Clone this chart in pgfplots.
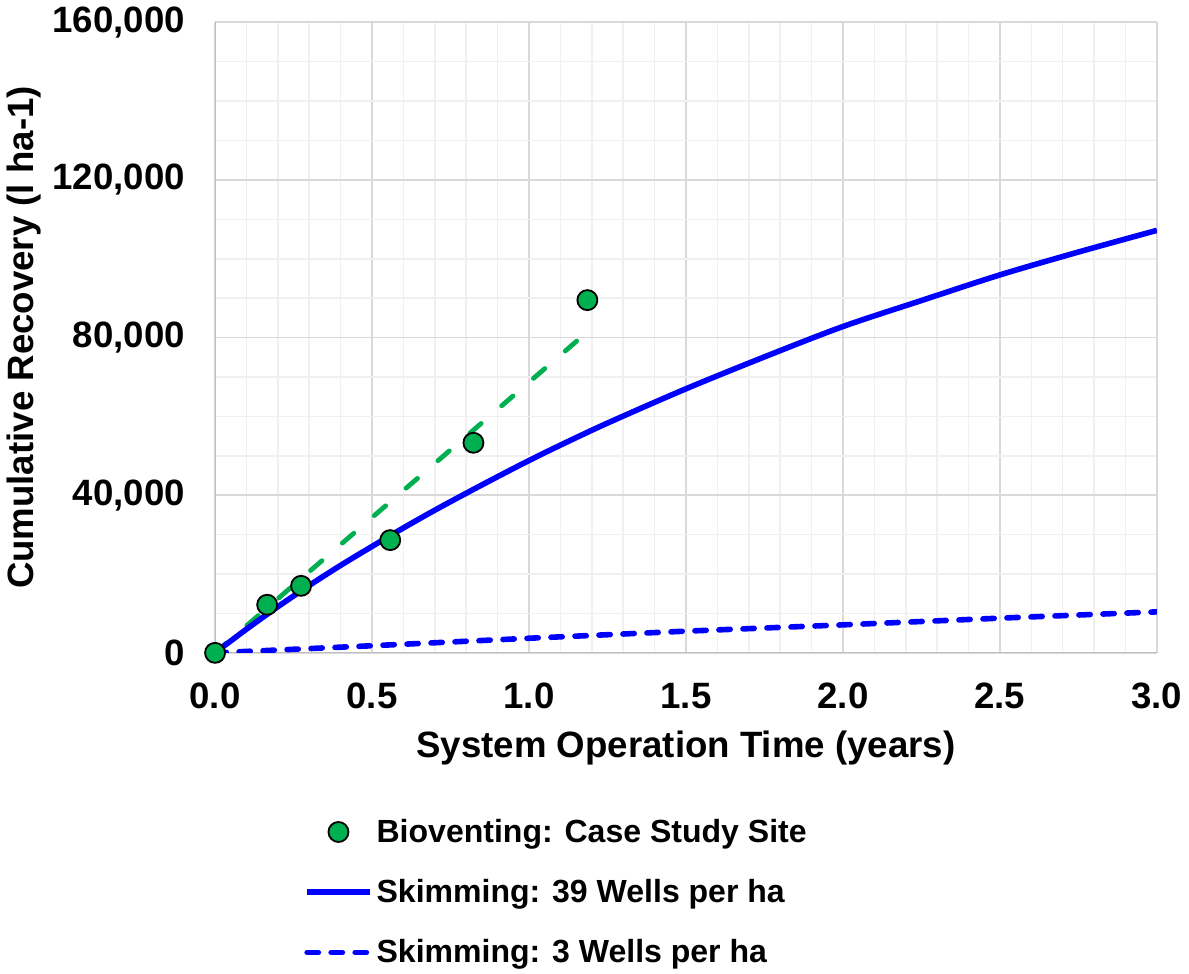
\documentclass[border=0pt]{standalone}
\usepackage{fontspec}
\setmainfont{Liberation Sans}
\usepackage{pgfplots}
\pgfplotsset{compat=1.18}

\definecolor{bgreen}{HTML}{00B050}
\definecolor{bblue}{HTML}{0000FF}
\definecolor{majgrid}{HTML}{D9D9D9}
\definecolor{mingrid}{HTML}{F0F0F0}

\pgfplotsset{
    lineleg/.style={legend image code/.code={\draw[##1] (0cm,0cm) -- (1.1cm,0cm);}},
    markleg/.style={legend image code/.code={\draw[##1, mark repeat=2, mark phase=2] plot coordinates {(0cm,0cm) (0.55cm,0cm) (1.1cm,0cm)};}},
}

\begin{document}
\begin{tikzpicture}
\begin{axis}[
    scale only axis,
    width=470.5pt, height=315pt,
    xmin=0, xmax=3, ymin=0, ymax=160000,
    xtick={0,0.5,...,3}, ytick={0,40000,...,160000},
    minor x tick num=4, minor y tick num=3,
    grid=both,
    major grid style={majgrid, line width=0.8pt},
    minor grid style={mingrid, line width=0.8pt},
    axis line style={draw=none},
    tick style={draw=none},
    scaled y ticks=false,
    /pgf/number format/assume math mode=true,
    xticklabel style={/pgf/number format/.cd, fixed, fixed zerofill, precision=1},
    yticklabel style={/pgf/number format/.cd, fixed, 1000 sep={,}},
    ticklabel style={font=\fontsize{18.3}{21}\selectfont\bfseries},
    xticklabel shift=11.5pt, yticklabel shift=11.5pt,
    label style={font=\fontsize{18.3}{21}\selectfont\bfseries},
    xlabel={System Operation Time (years)},
    ylabel={Cumulative Recovery (l ha-1)},
    xlabel style={yshift=-4pt},
    ylabel style={yshift=-1pt},
    legend cell align=left,
    legend style={at={(0.088,-0.25)}, anchor=north west, draw=none, fill=none,
        font=\fontsize{16}{19}\selectfont\bfseries, row sep=13pt,
        /tikz/every even column/.append style={column sep=1pt}},
]
% axis frame lines
\draw[color=majgrid, line width=0.8pt] (rel axis cs:0,1) -- (rel axis cs:1,1) -- (rel axis cs:1,0);
\draw[color=black!25, line width=1pt] (rel axis cs:0,1) -- (rel axis cs:0,0) -- (rel axis cs:1,0);

% trend line of case study
\addplot[bgreen, line width=2.4pt, line cap=round, dash pattern=on 7.5pt off 13.5pt, forget plot]
    coordinates {(0,0) (1.165,80000)};

\addplot[only marks, mark=*, mark size=5pt, mark options={fill=bgreen, draw=black, line width=0.9pt}, markleg]
    coordinates {
    (0,0)
    (0.166,12200)
    (0.274,17000)
    (0.558,28600)
    (0.823,53300)
    (1.186,89500)
};
\addlegendentry{Bioventing: Case Study Site}

\addplot[bblue, line width=2.8pt, smooth, lineleg]
    coordinates {
    (0,0)
    (0.1,6000)
    (0.2,11700)
    (0.3,17100)
    (0.4,22200)
    (0.5,27000)
    (0.6,31700)
    (0.7,36200)
    (0.8,40500)
    (0.9,44700)
    (1.0,48800)
    (1.1,52700)
    (1.25,58300)
    (1.5,67000)
    (1.75,75100)
    (2.0,82800)
    (2.25,89400)
    (2.5,95900)
    (2.75,101700)
    (3.0,107200)
};
\addlegendentry{Skimming: 39 Wells per ha}

\addplot[bblue, line width=2.8pt, line cap=round, dash pattern=on 5.6pt off 6.4pt, lineleg]
    coordinates {
    (0,0)
    (0.5,1800)
    (1.0,3700)
    (1.5,5500)
    (2.0,7100)
    (2.5,8800)
    (3.0,10400)
};
\addlegendentry{Skimming: 3 Wells per ha}
\end{axis}
\end{tikzpicture}
\end{document}
